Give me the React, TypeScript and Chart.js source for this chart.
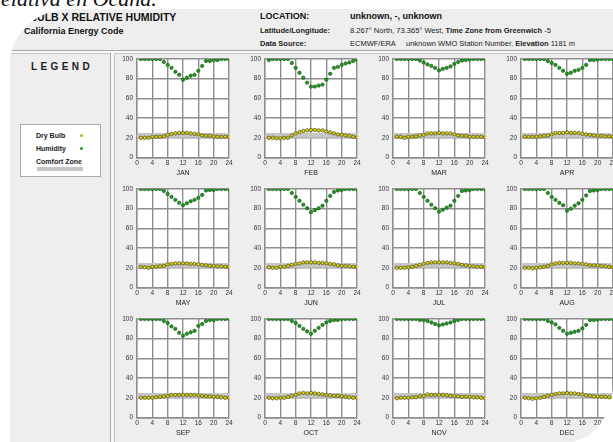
import { useEffect, useRef } from 'react';
import { Chart, registerables } from 'chart.js';

Chart.register(...registerables);

// ---------- data ----------
const HOURS = [1, 2, 3, 4, 5, 6, 7, 8, 9, 10, 11, 12, 13, 14, 15, 16, 17, 18, 19, 20, 21, 22, 23, 24];
const MONTHS = ['JAN', 'FEB', 'MAR', 'APR', 'MAY', 'JUN', 'JUL', 'AUG', 'SEP', 'OCT', 'NOV', 'DEC'];
const X_TICKS = [0, 4, 8, 12, 16, 20, 24];
const Y_TICKS = [0, 20, 40, 60, 80, 100];
const COMFORT_ZONE = [20, 25];

const HUM_JAN = [100, 100, 100, 100, 100, 100, 97, 94, 91, 87, 84, 79, 81, 83, 84, 88, 93, 98, 98, 99, 99, 100, 100, 100];
const HUM_FEB = [99, 100, 100, 100, 100, 100, 96, 91, 86, 81, 76, 72, 72, 73, 74, 79, 85, 91, 92, 94, 95.5, 96.5, 98, 99];
const HUM_MAR = [100, 100, 100, 100, 100, 100, 98.5, 96.5, 94.5, 93, 91, 88.5, 90, 91, 92.5, 95, 97, 98.5, 99, 99.5, 100, 100, 100, 100];
const HUM_APR = [100, 100, 100, 100, 100, 100, 98, 96, 94, 91, 88, 85, 86, 88, 89, 91, 94, 99, 99, 99.5, 100, 100, 100, 100];
const HUM_MAY = [100, 100, 100, 100, 100, 100, 98, 95, 92, 89, 86, 83.5, 85.5, 87.5, 89, 91, 94, 98.5, 99, 99, 100, 100, 100, 100];
const HUM_JUN = [100, 100, 100, 100, 100, 100, 96, 92, 88, 84, 80.5, 76.5, 78.5, 80.5, 83, 88, 93, 97, 98.5, 99, 100, 100, 100, 100];
const HUM_JUL = [100, 100, 100, 100, 100, 100, 96, 92, 88, 84, 80.5, 77, 79, 81, 83, 88, 93, 98, 98.5, 99, 100, 100, 100, 100];
const HUM_AUG = [100, 100, 100, 100, 100, 100, 96, 92, 89, 86, 83.5, 78, 80, 83, 85.5, 89, 93.5, 98, 98.5, 99, 100, 100, 100, 100];
const HUM_SEP = [100, 100, 100, 100, 100, 100, 98, 96, 92.5, 90, 86, 83, 85, 86.5, 88, 93, 95, 98, 99, 99, 100, 100, 100, 100];
const HUM_OCT = [100, 100, 100, 100, 100, 100, 98, 96, 93, 90, 87.5, 85, 88, 91, 94, 96.5, 98, 99, 99, 100, 100, 100, 100, 100];
const HUM_NOV = [100, 100, 100, 100, 100, 100, 99, 99, 98, 96.5, 95, 93.5, 94.5, 95.5, 96.5, 98, 99, 100, 100, 100, 100, 100, 100, 100];
const HUM_DEC = [100, 100, 100, 100, 100, 100, 98, 96.5, 94.5, 91, 88, 85, 86, 87, 88, 90.5, 94, 99, 99, 99.5, 100, 100, 100, 100];

const DB_JAN = [20, 20, 20, 21, 21, 21, 21.5, 23, 24, 24.5, 25, 25, 25, 24.5, 24, 23.5, 22.5, 22, 22, 21.5, 21, 21, 21, 21];
const DB_FEB = [20, 20, 19.5, 19.5, 20, 20, 22.5, 24.5, 26, 27, 27.5, 28, 28, 27.5, 27.5, 26.5, 25.5, 24.5, 23.5, 23, 22.5, 22, 21, 20.5];
const DB_MAR = [21, 21, 20, 21, 21, 21.5, 22.5, 23, 24.5, 24.5, 24.5, 25, 24.5, 24.5, 24.5, 23.5, 22.5, 22, 22, 21, 21, 21, 21, 20.5];
const DB_APR = [21, 21, 21, 21, 21.5, 22, 22.5, 23.5, 25, 25, 25, 25.5, 25, 25, 25, 24, 23.5, 23, 22.5, 22, 22, 21.5, 21.5, 21];
const DB_MAY = [21, 20.5, 20, 21, 21, 21.5, 22, 23.5, 24, 24.5, 24.5, 24.5, 24.5, 24, 24, 23.5, 23, 22.5, 22, 22, 21.5, 21.5, 21, 21];
const DB_JUN = [20.5, 20, 20, 21, 21, 22, 23, 24, 24.5, 25.5, 25.5, 25.5, 25.5, 25, 25, 24.5, 24, 23.5, 22.5, 22, 22, 21.5, 21, 21];
const DB_JUL = [20, 20, 20, 20.5, 21, 22, 23, 24, 25, 25.5, 25.5, 25.5, 25.5, 25.5, 25, 24.5, 24, 23, 22.5, 22, 21.5, 21, 21, 20.5];
const DB_AUG = [20, 20, 19.5, 20, 20.5, 21, 22, 23.5, 24.5, 25, 25, 25, 25, 24.5, 24.5, 24, 23.5, 22.5, 22.5, 22.5, 22, 21.5, 21, 20.5];
const DB_SEP = [20, 20, 20, 20, 20.5, 21, 21.5, 22, 23, 23, 23, 23, 23, 23, 23, 22.5, 22, 21.5, 21.5, 21, 21, 20.5, 20, 20];
const DB_OCT = [20, 19.5, 19.5, 20, 20, 21, 22, 23, 24.5, 25, 24.5, 25, 24.5, 24, 23.5, 23, 22.5, 22, 22, 21.5, 21, 20.5, 20, 20];
const DB_NOV = [19.5, 20, 20, 20, 20.5, 20.5, 21.5, 22, 23.5, 23, 23, 23, 23, 22.5, 22, 22, 21.5, 21, 21, 21, 20.5, 20.5, 20, 19.5];
const DB_DEC = [20, 19.5, 19, 19.5, 20, 21, 22, 23, 24, 24.5, 24.5, 25, 24.5, 24.5, 24, 23.5, 22.5, 22, 21.5, 21.5, 21, 21, 20.5, 20];

const HUMIDITY = [HUM_JAN, HUM_FEB, HUM_MAR, HUM_APR, HUM_MAY, HUM_JUN, HUM_JUL, HUM_AUG, HUM_SEP, HUM_OCT, HUM_NOV, HUM_DEC];
const DRY_BULB = [DB_JAN, DB_FEB, DB_MAR, DB_APR, DB_MAY, DB_JUN, DB_JUL, DB_AUG, DB_SEP, DB_OCT, DB_NOV, DB_DEC];

// ---------- styling ----------
const FONT = '"Liberation Sans", Arial, Helvetica, sans-serif';
const GRID = '#8e8e8e';
const COL_LEFT = [137, 265, 393, 521];
const ROW_TOP = [59, 189, 319];
const PAD_L = 26;
const PAD_T = 8;
const CANVAS_W = 126;
const CANVAS_H = 131;

const plotBg = {
  id: 'plotBg',
  beforeDraw(chart: any) {
    const { ctx, chartArea: a } = chart;
    ctx.save();
    ctx.fillStyle = '#ffffff';
    ctx.fillRect(a.left, a.top, a.width, a.height);
    ctx.restore();
  },
};

function MonthChart({ idx }: { idx: number }) {
  const ref = useRef<HTMLCanvasElement>(null);
  useEffect(() => {
    const xMin = X_TICKS[0];
    const xMax = X_TICKS[X_TICKS.length - 1];
    const chart = new Chart(ref.current as HTMLCanvasElement, {
      type: 'scatter',
      data: {
        datasets: [
          {
            label: 'Humidity',
            data: HOURS.map((h, i) => ({ x: h, y: HUMIDITY[idx][i] })),
            pointRadius: 1.7,
            pointHoverRadius: 1.7,
            backgroundColor: '#1f9a1f',
            borderColor: '#0b4a0b',
            borderWidth: 0.6,
            showLine: false,
          },
          {
            label: 'Dry Bulb',
            data: HOURS.map((h, i) => ({ x: h, y: DRY_BULB[idx][i] })),
            pointRadius: 1.7,
            pointHoverRadius: 1.7,
            backgroundColor: '#d8d41c',
            borderColor: '#4a4608',
            borderWidth: 0.7,
            showLine: false,
          },
          {
            type: 'line',
            label: 'Comfort Zone',
            data: [
              { x: xMin, y: COMFORT_ZONE[1] },
              { x: xMax, y: COMFORT_ZONE[1] },
            ],
            fill: '+1',
            backgroundColor: '#c6c6c6',
            borderColor: 'rgba(0,0,0,0)',
            borderWidth: 0,
            pointRadius: 0,
          },
          {
            type: 'line',
            label: 'Comfort low',
            data: [
              { x: xMin, y: COMFORT_ZONE[0] },
              { x: xMax, y: COMFORT_ZONE[0] },
            ],
            fill: false,
            borderColor: 'rgba(0,0,0,0)',
            borderWidth: 0,
            pointRadius: 0,
          },
        ] as any,
      },
      options: {
        animation: false,
        responsive: false,
        maintainAspectRatio: false,
        events: [],
        layout: { padding: { top: PAD_T, right: 8, left: 0, bottom: 0 } },
        plugins: { legend: { display: false }, tooltip: { enabled: false } },
        scales: {
          x: {
            type: 'linear',
            min: xMin,
            max: xMax,
            afterBuildTicks: (s: any) => {
              s.ticks = X_TICKS.map((v) => ({ value: v }));
            },
            afterFit: (s: any) => {
              s.height = CANVAS_H - PAD_T - 98.5;
            },
            ticks: {
              font: { family: FONT, size: 6.5 },
              color: '#333',
              padding: 2,
              maxRotation: 0,
              minRotation: 0,
              autoSkip: false,
            },
            grid: { color: GRID, lineWidth: 1.4, drawTicks: false },
            border: { color: GRID, width: 1.4 },
            title: {
              display: true,
              text: MONTHS[idx],
              font: { family: FONT, size: 7 },
              color: '#222',
              padding: { top: 0, bottom: 5 },
            },
          },
          y: {
            type: 'linear',
            min: Y_TICKS[0],
            max: Y_TICKS[Y_TICKS.length - 1],
            afterBuildTicks: (s: any) => {
              s.ticks = Y_TICKS.map((v) => ({ value: v }));
            },
            afterFit: (s: any) => {
              s.width = PAD_L;
            },
            ticks: {
              font: { family: FONT, size: 6.5 },
              color: '#333',
              padding: 4,
              autoSkip: false,
            },
            grid: { color: GRID, lineWidth: 1.4, drawTicks: false },
            border: { color: GRID, width: 1.4 },
          },
        },
      } as any,
      plugins: [plotBg],
    });
    return () => chart.destroy();
  }, [idx]);

  const left = COL_LEFT[idx % 4] - PAD_L;
  const top = ROW_TOP[Math.floor(idx / 4)] - PAD_T;
  return (
    <canvas
      ref={ref}
      width={CANVAS_W}
      height={CANVAS_H}
      style={{ position: 'absolute', left, top, width: CANVAS_W, height: CANVAS_H }}
    />
  );
}

function Txt({ x, y, size, bold, children, style }: any) {
  return (
    <div
      style={{
        position: 'absolute',
        left: x,
        top: y - size / 2,
        fontSize: size,
        lineHeight: `${size}px`,
        fontWeight: bold ? 'bold' : 'normal',
        whiteSpace: 'nowrap',
        color: '#111',
        ...style,
      }}
    >
      {children}
    </div>
  );
}

export default function App() {
  return (
    <div
      style={{
        position: 'absolute',
        left: 0,
        top: 0,
        width: 613,
        height: 442,
        overflow: 'hidden',
        background: '#ffffff',
        fontFamily: FONT,
      }}
    >
      <div
        style={{
          position: 'absolute',
          left: 10,
          top: 9,
          width: 603,
          height: 433,
          background: '#eeeeee',
          borderTopLeftRadius: '60px 55px',
          borderBottomRightRadius: '46px 59px',
          overflow: 'hidden',
        }}
      >
        <div style={{ position: 'absolute', left: -10, top: -9, width: 613, height: 442 }}>
          {/* header */}
          <Txt x={5} y={17} size={10.5} bold>DRY BULB X RELATIVE HUMIDITY</Txt>
          <Txt x={24} y={31} size={9} bold>California Energy Code</Txt>

          <Txt x={260} y={16.5} size={9} bold>LOCATION:</Txt>
          <Txt x={350} y={16.5} size={9} bold>unknown, -, unknown</Txt>
          <Txt x={260} y={30.5} size={7.5} bold style={{ color: '#222' }}>Latitude/Longitude:</Txt>
          <Txt x={350} y={30.5} size={7.5} style={{ color: '#222' }}>
            8.267° North, 73.365° West, <b>Time Zone from Greenwich</b> -5
          </Txt>
          <Txt x={260} y={44} size={7.5} bold style={{ color: '#222' }}>Data Source:</Txt>
          <Txt x={350} y={44} size={7.5} style={{ color: '#222' }}>ECMWF/ERA</Txt>
          <Txt x={406} y={44} size={7.5} style={{ color: '#222' }}>
            unknown WMO Station Number, <b>Elevation</b> 1181 m
          </Txt>

          {/* separators */}
          <div
            style={{
              position: 'absolute',
              left: 0,
              top: 50,
              width: 613,
              height: 2,
              borderTop: '1px solid #a8a8a8',
              borderBottom: '1px solid #c4c4c4',
              background: '#f8f8f8',
            }}
          />
          <div
            style={{
              position: 'absolute',
              left: 110,
              top: 53,
              width: 3,
              height: 400,
              borderLeft: '1px solid #a8a8a8',
              borderRight: '1px solid #c4c4c4',
              background: '#f8f8f8',
            }}
          />

          {/* legend panel */}
          <Txt x={31} y={67} size={10} bold style={{ letterSpacing: 3.4, color: '#222' }}>LEGEND</Txt>
          <div
            style={{
              position: 'absolute',
              left: 20,
              top: 124,
              width: 79,
              height: 51,
              background: '#ffffff',
              border: '1px solid #a9a9a9',
            }}
          />
          <Txt x={36} y={135} size={7} bold style={{ color: '#222' }}>Dry Bulb</Txt>
          <div style={{ position: 'absolute', left: 79.5, top: 133.5, width: 3, height: 3, borderRadius: 2, background: '#b8b42a' }} />
          <Txt x={36} y={148} size={7} bold style={{ color: '#222' }}>Humidity</Txt>
          <div style={{ position: 'absolute', left: 79.5, top: 146.5, width: 3, height: 3, borderRadius: 2, background: '#1f9a1f' }} />
          <Txt x={36} y={161} size={7} bold style={{ color: '#222' }}>Comfort Zone</Txt>
          <div style={{ position: 'absolute', left: 37, top: 166.5, width: 46, height: 4.5, background: '#c6c6c6' }} />

          {/* charts */}
          {MONTHS.map((m, i) => (
            <MonthChart key={m} idx={i} />
          ))}
        </div>
      </div>

      {/* cut-off caption at the very top */}
      <div
        style={{
          position: 'absolute',
          left: 1,
          top: -12,
          fontFamily: '"Liberation Serif", "Times New Roman", serif',
          fontStyle: 'italic',
          fontSize: 22,
          lineHeight: '22px',
          whiteSpace: 'nowrap',
          color: '#111',
        }}
      >
        elativa en Ocaña.
      </div>
    </div>
  );
}
